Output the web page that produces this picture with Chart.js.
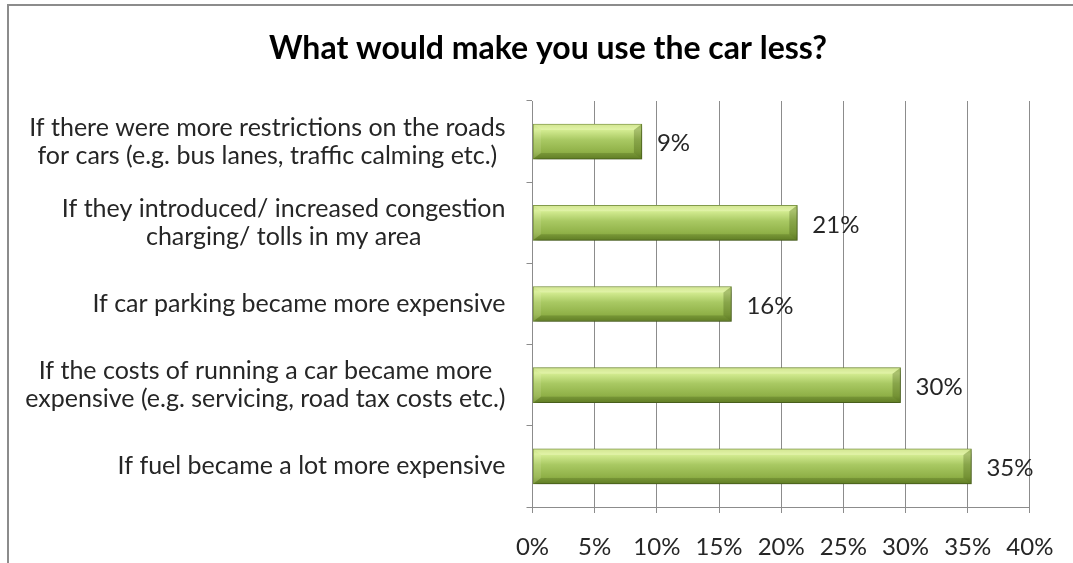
<!DOCTYPE html>
<html>
<head>
<meta charset="utf-8">
<script src="https://cdn.jsdelivr.net/npm/chart.js@4.4.1/dist/chart.umd.min.js"></script>
<style>
    html, body { margin: 0; padding: 0; background: #fff; overflow: hidden; }
    #frame { position: absolute; left: 7px; top: 4px; width: 1200px; height: 700px; border: 2px solid #8c8c8c; }
    #wrap { position: absolute; left: 0; top: 0; width: 1073px; height: 563px; }
</style>
</head>
<body>
<div id="frame"></div>
<div id="wrap"><canvas id="carChart"></canvas></div>
<script>
// Chart data
const chartTitle = 'What would make you use the car less?';
const categories = [
    ['If there were more restrictions on the roads', 'for cars (e.g. bus lanes, traffic calming etc.)'],
    ['If they introduced/ increased congestion', 'charging/ tolls in my area'],
    ['If car parking became more expensive'],
    ['If the costs of running a car became more', 'expensive (e.g. servicing, road tax costs etc.)'],
    ['If fuel became a lot more expensive']
];
const values = [8.8, 21.3, 16.0, 29.6, 35.3];
const valueLabels = ['9%', '21%', '16%', '30%', '35%'];
const xTicks = [0, 5, 10, 15, 20, 25, 30, 35, 40];

const FONT = 'Lato';
const TEXT = '#262626';
const GRID = '#8c8c8c';

function barGradient(context) {
    const chart = context.chart;
    const y = chart.scales.y;
    if (!y || context.dataIndex === undefined) return '#9bbb59';
    const cy = y.getPixelForValue(context.dataIndex);
    if (!isFinite(cy)) return '#9bbb59';
    const h = 35;
    const g = chart.ctx.createLinearGradient(0, cy - h / 2, 0, cy + h / 2);
    g.addColorStop(0, '#c3dd78');
    g.addColorStop(0.15, '#d6ee94');
    g.addColorStop(0.45, '#a9c963');
    g.addColorStop(0.8, '#8fb047');
    g.addColorStop(1, '#6e8c2e');
    return g;
}

// soft shadow under the bars
const shadowPlugin = {
    id: 'barShadow',
    beforeDatasetDraw(chart) {
        const ctx = chart.ctx;
        ctx.save();
        ctx.shadowColor = 'rgba(0,0,0,0.35)';
        ctx.shadowBlur = 6;
        ctx.shadowOffsetX = 2;
        ctx.shadowOffsetY = 3;
    },
    afterDatasetDraw(chart) {
        chart.ctx.restore();
    }
};

// bevel edges and value labels
const bevelPlugin = {
    id: 'bevel',
    afterDatasetsDraw(chart) {
        const ctx = chart.ctx;
        const meta = chart.getDatasetMeta(0);
        ctx.save();
        meta.data.forEach((bar, i) => {
            const x0 = bar.base, x1 = bar.x;
            const top = bar.y - bar.height / 2, bot = bar.y + bar.height / 2;
            const bx = 8, by = 6;
            const poly = (pts, fill) => {
                ctx.beginPath();
                ctx.moveTo(pts[0][0], pts[0][1]);
                pts.slice(1).forEach(p => ctx.lineTo(p[0], p[1]));
                ctx.closePath();
                ctx.fillStyle = fill;
                ctx.fill();
            };
            poly([[x0, top], [x1, top], [x1 - bx, top + by], [x0 + bx, top + by]], 'rgba(255,255,220,0.25)');
            poly([[x0 + bx, bot - by], [x1 - bx, bot - by], [x1, bot], [x0, bot]], 'rgba(40,60,0,0.18)');
            poly([[x0, top], [x0 + bx, top + by], [x0 + bx, bot - by], [x0, bot]], 'rgba(255,255,220,0.12)');
            poly([[x1, top], [x1 - bx, top + by], [x1 - bx, bot - by], [x1, bot]], 'rgba(40,60,0,0.25)');

            ctx.font = '24px ' + FONT;
            ctx.fillStyle = TEXT;
            ctx.textAlign = 'left';
            ctx.textBaseline = 'middle';
            ctx.fillText(valueLabels[i], x1 + 15, bar.y + 2);
        });
        ctx.restore();
    }
};

// category labels: block right aligned, lines centred within the block
const categoryLabelPlugin = {
    id: 'categoryLabels',
    afterDraw(chart) {
        const ctx = chart.ctx;
        const y = chart.scales.y;
        const right = chart.chartArea.left - 27;
        const lh = 28;
        ctx.save();
        ctx.font = '25px ' + FONT;
        ctx.fillStyle = TEXT;
        ctx.textAlign = 'center';
        ctx.textBaseline = 'middle';
        categories.forEach((lines, i) => {
            const cy = y.getPixelForValue(i);
            const w = Math.max(...lines.map(l => ctx.measureText(l).width));
            const cx = right - w / 2;
            lines.forEach((l, k) => {
                ctx.fillText(l, cx, cy + (k - (lines.length - 1) / 2) * lh);
            });
        });
        ctx.restore();
    }
};

Chart.defaults.font.family = FONT;
Chart.defaults.color = TEXT;

const ctx = document.getElementById('carChart').getContext('2d');
new Chart(ctx, {
    type: 'bar',
    data: {
        labels: categories.map(c => c.join(' ')),
        datasets: [{
            data: values,
            backgroundColor: barGradient,
            borderColor: '#6b8a2c',
            borderWidth: 1,
            borderSkipped: false,
            barThickness: 35
        }]
    },
    options: {
        indexAxis: 'y',
        responsive: true,
        maintainAspectRatio: false,
        animation: false,
        layout: { padding: { left: 63.5, right: 40.5, top: 0, bottom: 0 } },
        plugins: {
            legend: { display: false },
            tooltip: { enabled: false },
            title: {
                display: true,
                text: chartTitle,
                color: '#000',
                font: { size: 32, weight: 'bold', family: FONT },
                padding: { top: 29, bottom: 33.6 }
            }
        },
        scales: {
            x: {
                min: 0,
                max: 40,
                afterBuildTicks: scale => { scale.ticks = xTicks.map(v => ({ value: v })); },
                afterFit: scale => { scale.height = 56; },
                grid: { color: GRID, lineWidth: 1, tickLength: 6 },
                border: { color: GRID },
                ticks: {
                    padding: 19.6,
                    color: TEXT,
                    font: { size: 24 },
                    callback: v => v + '%'
                }
            },
            y: {
                afterFit: scale => { scale.width = 469; },
                grid: { offset: true, drawOnChartArea: false, drawTicks: true, tickLength: 6, color: GRID },
                border: { color: GRID },
                ticks: { display: false }
            }
        }
    },
    plugins: [shadowPlugin, bevelPlugin, categoryLabelPlugin]
});
</script>
</body>
</html>
